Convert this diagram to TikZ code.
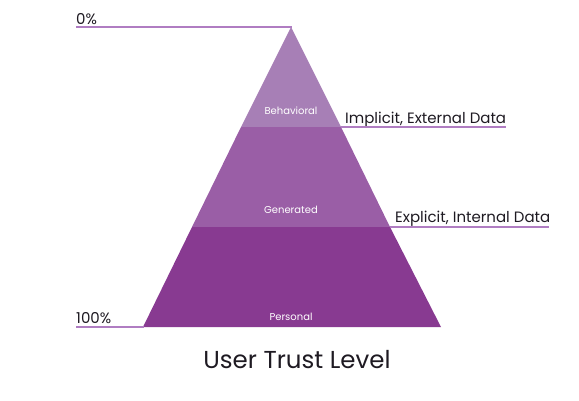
\documentclass[tikz,border=0pt]{standalone}
\usepackage{fontspec}
\setmainfont{Poppins}
\definecolor{bandA}{HTML}{A77FB6}
\definecolor{bandB}{HTML}{9A5EA6}
\definecolor{bandC}{HTML}{883A91}
\definecolor{trustline}{RGB}{176,125,194}
\definecolor{ink}{HTML}{1E1A22}
\tikzset{
  guideline/.style={fill=trustline},
  sidelabel/.style={text=ink, font=\fontsize{15}{17}\selectfont, inner sep=0pt, anchor=base west},
  bandlabel/.style={text=white, font=\fontsize{10}{12}\selectfont, inner sep=0pt},
}
\begin{document}
\begin{tikzpicture}[x=1pt,y=-1pt]
\useasboundingbox (0,0) rectangle (579,400);
% pyramid corners
\coordinate (apex) at (291,27);
\coordinate (aL) at (241,127);
\coordinate (aR) at (341,127);
\coordinate (bL) at (192,227);
\coordinate (bR) at (390,227);
\coordinate (cL) at (143,327);
\coordinate (cR) at (441,327);
\fill[bandA] (apex) -- (aR) -- (aL) -- cycle;
\fill[bandB] (aL) -- (aR) -- (bR) -- (bL) -- cycle;
\fill[bandC] (bL) -- (bR) -- (cR) -- (cL) -- cycle;
% band labels
\node[bandlabel] (beh) at (291,111) {Behavioral};
\node[bandlabel] (gen) at (291,210) {Generated};
\node[bandlabel] (per) at (291,317) {Personal};
% side labels
\node[sidelabel] (zero) at (76,24) {0\%};
\node[sidelabel] (hundred) at (76,323.5) {100\%};
\node[sidelabel] (impl) at (345,123) {Implicit, External Data};
\node[sidelabel] (expl) at (395,222) {Explicit, Internal Data};
% guide lines (thin filled bars)
\coordinate (zeroT) at (76,26.4);
\coordinate (zeroB) at (292,28.0);
\coordinate (hunT) at (76,326.4);
\coordinate (hunB) at (143.5,328.0);
\coordinate (implT) at (341,126.4);
\coordinate (implB) at (506,128.0);
\coordinate (explT) at (390,226.4);
\coordinate (explB) at (549,228.0);
\fill[guideline] (zeroT) rectangle (zeroB);
\fill[guideline] (hunT) rectangle (hunB);
\fill[guideline] (implT) rectangle (implB);
\fill[guideline] (explT) rectangle (explB);
% title
\node[text=ink, font=\fontsize{24.5}{28}\selectfont, inner sep=0pt] (title) at (297,360) {User Trust Level};
\end{tikzpicture}
\end{document}
